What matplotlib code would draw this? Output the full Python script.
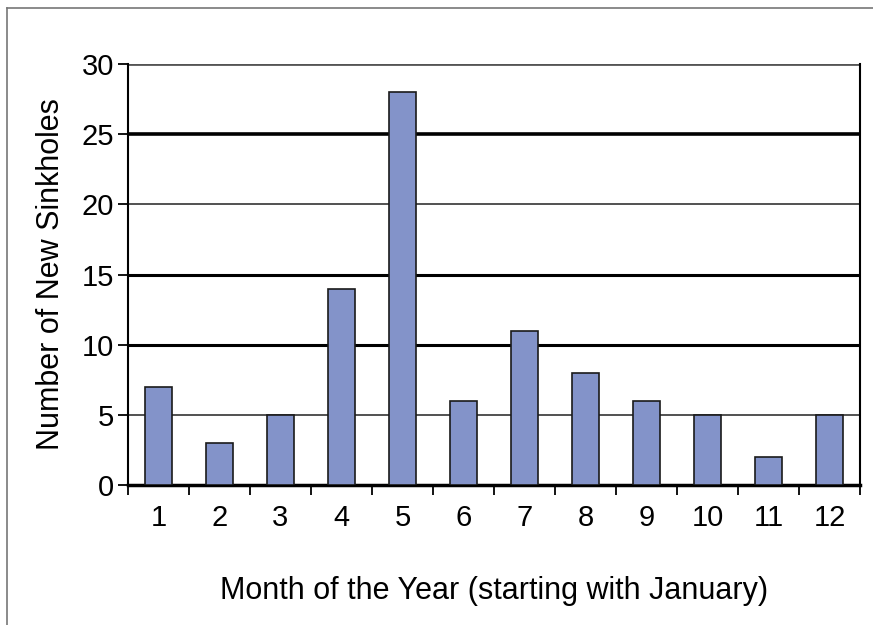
import numpy as np
import matplotlib
matplotlib.use("Agg")
import matplotlib.pyplot as plt
from matplotlib.lines import Line2D

plt.rcParams['font.family'] = ['Liberation Sans', 'DejaVu Sans']

# Data
months = [1, 2, 3, 4, 5, 6, 7, 8, 9, 10, 11, 12]
sinkholes = [7, 3, 5, 14, 28, 6, 11, 8, 6, 5, 2, 5]
y_ticks = [0, 5, 10, 15, 20, 25, 30]

fig = plt.figure(figsize=(8.73, 6.25), dpi=100)
ax = fig.add_axes([0.1466, 0.224, 0.8385, 0.6736])

# Bars
ax.bar(months, sinkholes, width=0.44, color='#8393c9', edgecolor='#1a1a1a',
       linewidth=1.2, zorder=3)

ax.set_xlim(0.5, 12.5)
ax.set_ylim(0, 30)

# Horizontal grid lines
ax.set_yticks(y_ticks)
ax.yaxis.grid(True, color='black', zorder=1)
ax.set_axisbelow(True)
widths = [0, 1.2, 2.2, 2.2, 1.2, 2.6, 2.0]
colors = ['black', '#333333', 'black', 'black', '#333333', 'black', '#555555']
for gl, w, c in zip(ax.get_ygridlines(), widths, colors):
    gl.set_linewidth(w)
    gl.set_color(c)

# x ticks: labels centred under bars, tick marks between bars
ax.set_xticks(months)
ax.set_xticks(np.arange(0.5, 13, 1), minor=True)
ax.tick_params(axis='x', which='major', length=0, pad=14, labelsize=21)
ax.tick_params(axis='x', which='minor', length=7, width=1.3, direction='out')
ax.tick_params(axis='y', length=7, width=1.3, direction='out', pad=3, labelsize=21)

ax.spines['top'].set_visible(False)
ax.spines['left'].set_linewidth(1.5)
ax.spines['right'].set_linewidth(1.5)
ax.spines['bottom'].set_linewidth(2.5)

ax.set_ylabel('Number of New Sinkholes', fontsize=22, labelpad=11)
ax.set_xlabel('Month of the Year (starting with January)', fontsize=22, labelpad=31)

# Thin gray frame on the top and left of the image
fig.add_artist(Line2D([0.008, 1.0], [0.987, 0.987], color='#777777', lw=1.2,
                      transform=fig.transFigure))
fig.add_artist(Line2D([0.008, 0.008], [0.0, 0.987], color='#777777', lw=1.2,
                      transform=fig.transFigure))

fig.savefig('out.png', dpi=100)
